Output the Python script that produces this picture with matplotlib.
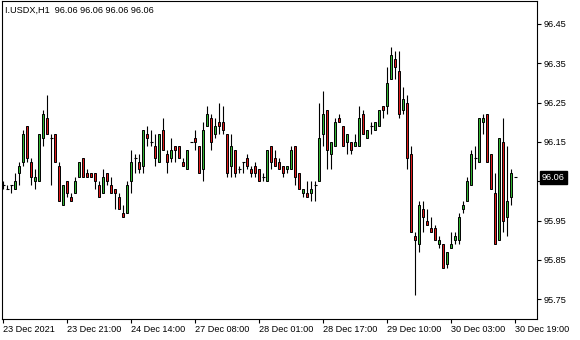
import matplotlib.pyplot as plt
from matplotlib.transforms import blended_transform_factory

plt.rcParams['font.family'] = ['Liberation Sans', 'DejaVu Sans']

symbol = "I.USDX,H1"
last_price = 96.06

# hourly OHLC, bar 0 = 23 Dec 2021
opens = [96.04, 96.03, 96.04, 96.03, 96.07, 96.10, 96.19, 96.10, 96.05, 96.05,
         96.16, 96.21, 96.16, 96.17, 96.09, 95.99, 96.05, 96.01, 96.02, 96.06,
         96.11, 96.07, 96.07, 96.07, 96.04, 96.02, 96.07, 96.04, 96.03, 96.01,
         95.97, 95.97, 96.05, 96.11, 96.10, 96.09, 96.17, 96.15, 96.14, 96.10,
         96.18, 96.12, 96.11, 96.14, 96.14, 96.10, 96.08, 96.15, 96.16, 96.14,
         96.08, 96.19, 96.21, 96.17, 96.20, 96.20, 96.17, 96.09, 96.13, 96.08,
         96.10, 96.11, 96.08, 96.09, 96.08, 96.06, 96.05, 96.14, 96.11, 96.10,
         96.09, 96.08, 96.08, 96.14, 96.07, 96.02, 96.02, 96.02, 96.04, 96.05,
         96.17, 96.23, 96.12, 96.14, 96.21, 96.19, 96.15, 96.15, 96.14, 96.14,
         96.22, 96.16, 96.19, 96.18, 96.19, 96.24, 96.24, 96.31, 96.36, 96.33,
         96.23, 96.25, 96.12, 95.91, 95.89, 95.98, 95.95, 95.93, 95.93, 95.89,
         95.89, 95.84, 95.88, 95.90, 95.90, 95.98, 96.00, 96.04, 96.11, 96.10,
         96.20, 96.22, 96.12, 96.02, 95.90, 96.15, 95.96, 96.01, 96.06]
highs = [96.05, 96.04, 96.04, 96.07, 96.10, 96.18, 96.19, 96.11, 96.08, 96.17,
         96.23, 96.27, 96.17, 96.17, 96.10, 96.04, 96.05, 96.02, 96.06, 96.10,
         96.11, 96.08, 96.07, 96.07, 96.05, 96.08, 96.07, 96.06, 96.03, 96.02,
         95.99, 96.05, 96.13, 96.12, 96.12, 96.18, 96.19, 96.18, 96.17, 96.17,
         96.21, 96.13, 96.16, 96.14, 96.14, 96.11, 96.13, 96.15, 96.18, 96.14,
         96.20, 96.24, 96.22, 96.21, 96.25, 96.24, 96.17, 96.17, 96.13, 96.09,
         96.10, 96.12, 96.09, 96.10, 96.08, 96.07, 96.13, 96.14, 96.13, 96.11,
         96.09, 96.09, 96.14, 96.14, 96.07, 96.03, 96.05, 96.05, 96.05, 96.25,
         96.28, 96.23, 96.15, 96.21, 96.22, 96.19, 96.17, 96.15, 96.17, 96.24,
         96.23, 96.18, 96.20, 96.20, 96.23, 96.24, 96.34, 96.39, 96.38, 96.38,
         96.29, 96.27, 96.14, 95.92, 96.00, 96.00, 95.98, 95.96, 95.94, 95.91,
         95.89, 95.87, 95.92, 95.92, 95.97, 96.00, 96.06, 96.13, 96.14, 96.21,
         96.22, 96.22, 96.12, 96.07, 96.16, 96.21, 96.14, 96.08, 96.06]
lows = [96.03, 96.03, 96.02, 96.03, 96.04, 96.09, 96.10, 96.04, 96.03, 96.05,
        96.14, 96.17, 96.04, 96.10, 96.00, 95.99, 96.01, 96.00, 96.02, 96.06,
        96.06, 96.06, 96.06, 96.03, 96.01, 96.02, 96.04, 96.02, 95.98, 95.98,
        95.96, 95.97, 96.02, 96.07, 96.07, 96.07, 96.14, 96.14, 96.09, 96.10,
        96.13, 96.07, 96.10, 96.10, 96.11, 96.09, 96.08, 96.15, 96.13, 96.07,
        96.05, 96.19, 96.13, 96.16, 96.17, 96.17, 96.06, 96.06, 96.06, 96.07,
        96.07, 96.08, 96.06, 96.06, 96.05, 96.05, 96.05, 96.08, 96.09, 96.08,
        96.06, 96.07, 96.08, 96.04, 96.03, 96.01, 96.01, 96.00, 96.00, 96.05,
        96.14, 96.08, 96.08, 96.14, 96.20, 96.14, 96.12, 96.12, 96.14, 96.14,
        96.17, 96.16, 96.17, 96.18, 96.19, 96.21, 96.22, 96.31, 96.31, 96.21,
        96.22, 96.08, 95.92, 95.76, 95.87, 95.92, 95.94, 95.92, 95.90, 95.88,
        95.83, 95.83, 95.88, 95.89, 95.89, 95.97, 96.00, 96.04, 96.08, 96.10,
        96.17, 96.10, 96.03, 95.89, 95.90, 95.92, 95.91, 95.99, 96.06]
closes = [96.04, 96.03, 96.04, 96.05, 96.09, 96.17, 96.11, 96.06, 96.06, 96.17,
          96.22, 96.17, 96.16, 96.10, 96.00, 96.04, 96.02, 96.00, 96.05, 96.10,
          96.06, 96.06, 96.06, 96.05, 96.01, 96.06, 96.05, 96.02, 96.02, 95.98,
          95.96, 96.04, 96.10, 96.11, 96.08, 96.18, 96.16, 96.15, 96.11, 96.17,
          96.13, 96.10, 96.13, 96.13, 96.11, 96.09, 96.13, 96.15, 96.15, 96.07,
          96.18, 96.22, 96.15, 96.19, 96.19, 96.18, 96.07, 96.14, 96.07, 96.08,
          96.10, 96.09, 96.07, 96.07, 96.05, 96.06, 96.13, 96.10, 96.09, 96.08,
          96.07, 96.09, 96.13, 96.06, 96.03, 96.03, 96.01, 96.03, 96.04, 96.16,
          96.22, 96.13, 96.15, 96.20, 96.20, 96.14, 96.17, 96.13, 96.15, 96.21,
          96.17, 96.18, 96.19, 96.20, 96.23, 96.23, 96.30, 96.37, 96.34, 96.22,
          96.26, 96.11, 95.92, 95.90, 95.99, 95.96, 95.94, 95.92, 95.90, 95.90,
          95.83, 95.87, 95.89, 95.91, 95.96, 95.99, 96.05, 96.12, 96.11, 96.21,
          96.21, 96.10, 96.03, 95.89, 96.16, 95.95, 96.00, 96.07, 96.06]

x_tick_bars = [0, 16, 32, 48, 64, 80, 96, 112, 128]
x_tick_labels = ["23 Dec 2021", "23 Dec 21:00", "24 Dec 14:00", "27 Dec 08:00",
                 "28 Dec 01:00", "28 Dec 17:00", "29 Dec 10:00", "30 Dec 03:00",
                 "30 Dec 19:00"]
y_ticks = [95.75, 95.85, 95.95, 96.05, 96.15, 96.25, 96.35, 96.45]

bull = '#33b533'
bear = '#dd1a1a'

W, H = 580, 340
fig = plt.figure(figsize=(W / 100, H / 100), dpi=100)
ax = fig.add_axes([2 / W, 1 - 319 / H, 535 / W, 318 / H])

n = len(opens)
ax.vlines(range(n), lows, highs, color='black', lw=0.8, zorder=2)
for i in range(n):
    o, c = opens[i], closes[i]
    if abs(c - o) < 1e-9:
        ax.hlines(o, i - 0.4, i + 0.4, color='black', lw=0.8, zorder=3)
    else:
        ax.bar(i, abs(c - o), bottom=min(o, c), width=0.5,
               color=bull if c > o else bear, edgecolor='black', lw=0.7, zorder=3)

ax.set_xlim(-0.33, 133.4)
ax.set_ylim(95.700, 96.508)

for s in ax.spines.values():
    s.set_linewidth(0.8)
    s.set_color('black')

ax.yaxis.tick_right()
ax.set_yticks(y_ticks)
ax.set_yticklabels(["%.2f" % v for v in y_ticks])
ax.tick_params(axis='y', direction='out', length=3, width=0.8, pad=1.5, labelsize=6.6)

ax.set_xticks(x_tick_bars)
ax.set_xticklabels(x_tick_labels)
ax.tick_params(axis='x', direction='out', length=3, width=0.8, pad=1.5, labelsize=6.6)
for lbl in ax.get_xticklabels():
    lbl.set_ha('left')

fig.text(5 / W, 1 - 10 / H, "%s  %.2f %.2f %.2f %.2f" % (symbol, opens[-1], highs[-1], lows[-1], closes[-1]),
         va='center', ha='left', fontsize=6.6)

trans = blended_transform_factory(ax.transAxes, ax.transData)
ax.text(1.0 + 5 / 535, last_price, "%.2f" % last_price, transform=trans,
        ha='left', va='center', color='white', fontsize=6.6, clip_on=False, zorder=5,
        bbox=dict(boxstyle='square,pad=0.25', fc='black', ec='black'))

fig.savefig('out.png', dpi=100)
